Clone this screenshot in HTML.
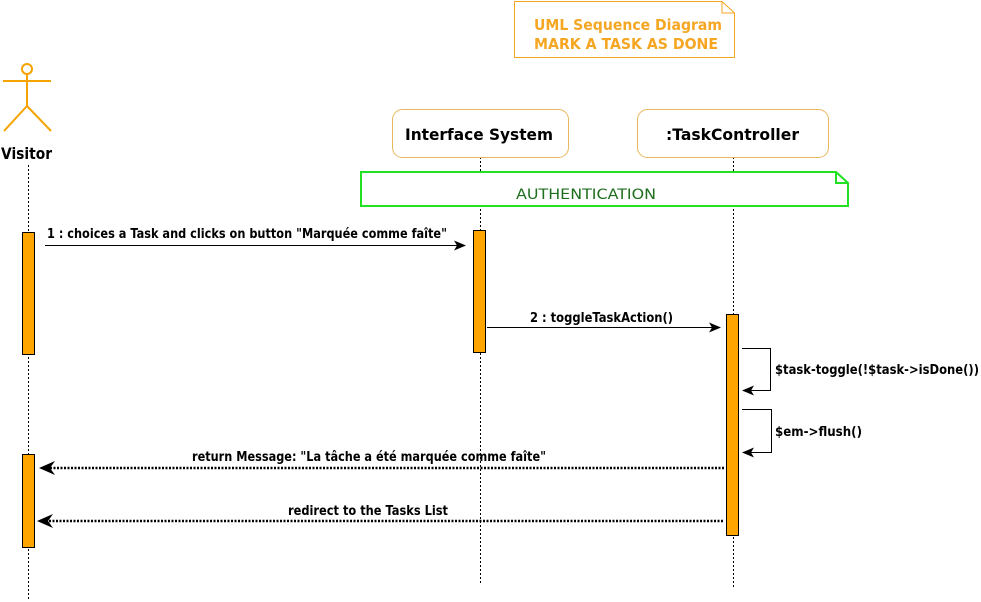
<!DOCTYPE html>
<html><head><meta charset="utf-8"><style>
html,body{margin:0;padding:0;background:#fff;}
svg{display:block;}
text{font-family:"DejaVu Sans","Liberation Sans",sans-serif;font-weight:bold;}
</style></head><body>
<svg width="981" height="602" viewBox="0 0 981 602" xmlns="http://www.w3.org/2000/svg">
<defs>
<marker id="a" markerWidth="12" markerHeight="10" refX="11" refY="5" orient="auto" markerUnits="userSpaceOnUse"><path d="M0,0 L12,5 L0,10 L3,5 Z" fill="#000"/></marker>
</defs>
<path d="M514.5,1.5 H722 L734.5,13 V57.5 H514.5 Z" fill="#fff" stroke="#f5a623" stroke-width="1"/>
<path d="M722,1.5 V13 H734.5" fill="none" stroke="#f5a623"/>
<text x="534" y="30" font-size="15" fill="#f5a623" textLength="188" lengthAdjust="spacingAndGlyphs">UML Sequence Diagram</text>
<text x="534" y="49" font-size="15" fill="#f5a623" textLength="184" lengthAdjust="spacingAndGlyphs">MARK A TASK AS DONE</text>
<g stroke="#f5a300" stroke-width="2" fill="none">
<circle cx="27" cy="69" r="5"/>
<line x1="3" y1="81" x2="51" y2="81"/>
<line x1="27" y1="74" x2="27" y2="106"/>
<line x1="27" y1="106" x2="4" y2="131"/>
<line x1="27" y1="106" x2="51" y2="131"/>
</g>
<text x="1" y="159" font-size="16" fill="#000" textLength="51" lengthAdjust="spacingAndGlyphs">Visitor</text>
<g stroke="#000" stroke-width="1" stroke-dasharray="2,2">
<line x1="28.5" y1="165" x2="28.5" y2="600"/>
<line x1="480.5" y1="157" x2="480.5" y2="583"/>
<line x1="733.5" y1="157" x2="733.5" y2="588"/>
</g>
<rect x="392.5" y="109.5" width="176" height="48" rx="10" fill="#fff" stroke="#e8b860"/>
<text x="405" y="140" font-size="16" fill="#000" textLength="148" lengthAdjust="spacingAndGlyphs">Interface System</text>
<rect x="637.5" y="109.5" width="191" height="48" rx="10" fill="#fff" stroke="#e8b860"/>
<text x="666" y="140" font-size="16" fill="#000" textLength="133" lengthAdjust="spacingAndGlyphs">:TaskController</text>
<path d="M361,172 H836 L848,183 V206 H361 Z" fill="#fff" stroke="#22e022" stroke-width="2"/>
<path d="M836,172 V183 H848" fill="none" stroke="#22e022" stroke-width="2"/>
<text x="516" y="199" font-size="14" style="font-weight:normal" fill="#1e6e1e" textLength="140" lengthAdjust="spacingAndGlyphs">AUTHENTICATION</text>
<g fill="#ffa500" stroke="#000" stroke-width="1">
<rect x="22.5" y="232.5" width="12" height="122"/>
<rect x="22.5" y="454.5" width="12" height="93"/>
<rect x="473.5" y="230.5" width="12" height="122"/>
<rect x="726.5" y="314.5" width="12" height="221"/>
</g>
<g stroke="#000" stroke-width="1" fill="none">
<line x1="45" y1="245.5" x2="465" y2="245.5" marker-end="url(#a)"/>
<line x1="487" y1="327.5" x2="720" y2="327.5" marker-end="url(#a)"/>
<polyline points="742,348.5 770.5,348.5 770.5,390.5 743,390.5" marker-end="url(#a)"/>
<polyline points="742,409.5 771.5,409.5 771.5,452.5 743,452.5" marker-end="url(#a)"/>
</g>
<g stroke="#000" stroke-width="2.5" stroke-dasharray="2,1.5" fill="none">
<line x1="724" y1="468" x2="50" y2="468"/>
<line x1="723" y1="521" x2="48" y2="521"/>
</g>
<path d="M39,468 L55,461 L50,468 L55,475 Z" fill="#000"/>
<path d="M37,521 L53,514 L48,521 L53,528 Z" fill="#000"/>
<g font-size="13" fill="#000">
<text x="47" y="238" textLength="400" lengthAdjust="spacingAndGlyphs">1 : choices a Task and clicks on button "Marquée comme faîte"</text>
<text x="530" y="322" textLength="143" lengthAdjust="spacingAndGlyphs">2 : toggleTaskAction()</text>
<text x="775" y="374" textLength="204" lengthAdjust="spacingAndGlyphs">$task-toggle(!$task-&gt;isDone())</text>
<text x="775" y="436" textLength="87" lengthAdjust="spacingAndGlyphs">$em-&gt;flush()</text>
<text x="192" y="461" textLength="354" lengthAdjust="spacingAndGlyphs">return Message: "La tâche a été marquée comme faîte"</text>
<text x="288" y="515" textLength="160" lengthAdjust="spacingAndGlyphs">redirect to the Tasks List</text>
</g>
</svg>
</body></html>
